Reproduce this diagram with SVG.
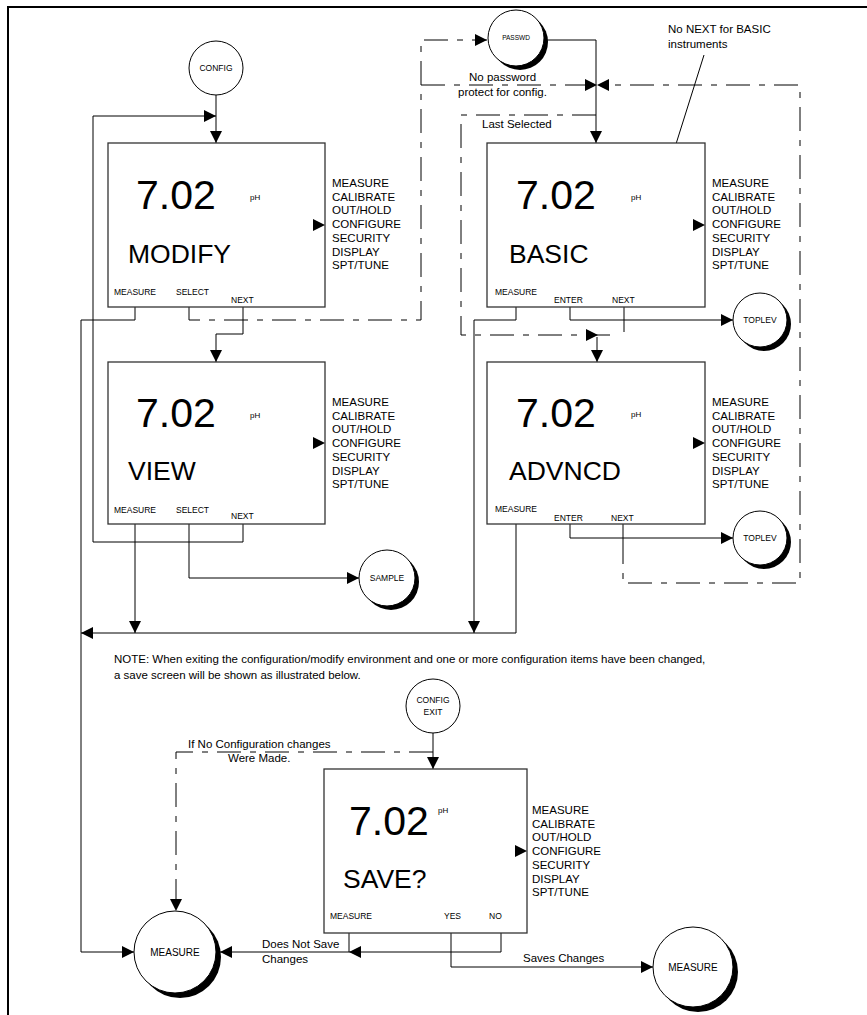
<svg xmlns="http://www.w3.org/2000/svg" width="867" height="1015" viewBox="0 0 867 1015">
<style>
text{font-family:"Liberation Sans",Arial,sans-serif;fill:#000}
.box{fill:#fff;stroke:#333;stroke-width:1.3}
.big{font-size:41px}
.ttl{font-size:26.5px}
.ph{font-size:8px}
.menu{font-size:11.5px}
.key{font-size:8.5px}
.ann{font-size:11.5px}
.cl{font-size:8.5px;text-anchor:middle}
.ln{fill:none;stroke:#000;stroke-width:1}
.dd{fill:none;stroke:#000;stroke-width:1;stroke-dasharray:24 9 6 9}
.ci{fill:#fff;stroke:#000;stroke-width:1}
.sh{fill:#000}
</style>
<defs>
<marker id="ah" viewBox="0 0 12 12" refX="12" refY="6" markerWidth="12" markerHeight="12" markerUnits="userSpaceOnUse" orient="auto"><path d="M0,0L12,6L0,12z"/></marker>
<g id="menu"><text class="menu"><tspan x="0" y="0">MEASURE</tspan><tspan x="0" dy="13.7">CALIBRATE</tspan><tspan x="0" dy="13.7">OUT/HOLD</tspan><tspan x="0" dy="13.7">CONFIGURE</tspan><tspan x="0" dy="13.7">SECURITY</tspan><tspan x="0" dy="13.7">DISPLAY</tspan><tspan x="0" dy="13.7">SPT/TUNE</tspan></text></g>
</defs>

<path d="M8,1015V7H867" fill="none" stroke="#000" stroke-width="2"/>

<g id="connectors">
<path class="ln" d="M216,95V143" marker-end="url(#ah)"/>
<path class="ln" d="M243,524V542H93V116H216" marker-end="url(#ah)"/>
<path class="ln" d="M135,307V320H81V952H134" marker-end="url(#ah)"/>
<path class="dd" d="M189,307V320H421V40H487" marker-end="url(#ah)"/>
<path class="dd" d="M421,85H585"/>
<polygon points="585,79 597,85 585,91"/>
<polygon points="609,79 597,85 609,91"/>
<path class="ln" d="M544,40H596V143" marker-end="url(#ah)"/>
<path class="dd" d="M596,115H461V335H613"/>
<polygon points="586,329 598,335 586,341"/>
<path class="ln" d="M597,337V362" marker-end="url(#ah)"/>
<path class="ln" d="M624,307V332"/>
<path class="ln" d="M516,307V320H474V633" marker-end="url(#ah)"/>
<path class="ln" d="M570,307V320H733" marker-end="url(#ah)"/>
<path class="ln" d="M704,55L631,287"/>
<path class="ln" d="M243,307V334H216V362" marker-end="url(#ah)"/>
<path class="ln" d="M135,524V633" marker-end="url(#ah)"/>
<path class="ln" d="M189,524V578H359" marker-end="url(#ah)"/>
<path class="ln" d="M516,524V633H81" marker-end="url(#ah)"/>
<path class="ln" d="M570,524V538H733" marker-end="url(#ah)"/>
<path class="ln" d="M623,524V540"/>
<path class="dd" d="M623,540V583H800V85H609"/>
<path class="ln" d="M433,733V769" marker-end="url(#ah)"/>
<path class="dd" d="M433,752H176V911" marker-end="url(#ah)"/>
<path class="ln" d="M349,933V952"/>
<path class="ln" d="M501,933V952H220" marker-end="url(#ah)"/>
<polygon points="361,946 349,952 361,958"/>
<path class="ln" d="M451,933V967H653" marker-end="url(#ah)"/>
</g>

<g id="labels">
<text class="ann" x="469" y="81">No password</text>
<text class="ann" x="458" y="96">protect for config.</text>
<text class="ann" x="668" y="33">No NEXT for BASIC</text>
<text class="ann" x="668" y="48">instruments</text>
<text class="ann" x="482" y="128">Last Selected</text>
<text class="ann" x="114" y="663">NOTE: When exiting the configuration/modify environment and one or more configuration items have been changed,</text>
<text class="ann" x="114" y="679">a save screen will be shown as illustrated below.</text>
<text class="ann" x="188" y="748">If No Configuration changes</text>
<text class="ann" x="228" y="762">Were Made.</text>
<text class="ann" x="262" y="948">Does Not Save</text>
<text class="ann" x="262" y="963">Changes</text>
<text class="ann" x="523" y="962">Saves Changes</text>
</g>

<g id="config">
<circle class="ci" cx="216" cy="68" r="27"/>
<text class="cl" x="216" y="71">CONFIG</text>
</g>
<g id="passwd">
<circle class="sh" cx="520" cy="42" r="28"/>
<circle class="ci" cx="516" cy="38" r="28"/>
<text class="cl" x="516" y="40" style="font-size:6.5px">PASSWD</text>
</g>
<g id="toplev1">
<circle class="sh" cx="764" cy="324" r="27"/>
<circle class="ci" cx="760" cy="320" r="27"/>
<text class="cl" x="760" y="323">TOPLEV</text>
</g>
<g id="toplev2">
<circle class="sh" cx="764" cy="542" r="27"/>
<circle class="ci" cx="760" cy="538" r="27"/>
<text class="cl" x="760" y="541">TOPLEV</text>
</g>
<g id="sample">
<circle class="sh" cx="391" cy="582" r="28"/>
<circle class="ci" cx="387" cy="578" r="28"/>
<text class="cl" x="387" y="581">SAMPLE</text>
</g>
<g id="configexit">
<circle class="ci" cx="433" cy="706" r="27"/>
<text class="cl" x="433" y="703">CONFIG</text>
<text class="cl" x="433" y="715">EXIT</text>
</g>
<g id="measure1">
<circle class="sh" cx="180" cy="957" r="41"/>
<circle class="ci" cx="175" cy="952" r="41"/>
<text class="cl" x="175" y="956" style="font-size:10px">MEASURE</text>
</g>
<g id="measure2">
<circle class="sh" cx="698" cy="972" r="40"/>
<circle class="ci" cx="693" cy="967" r="40"/>
<text class="cl" x="693" y="971" style="font-size:10px">MEASURE</text>
</g>

<g id="modify" transform="translate(108,143)">
<rect class="box" x="0" y="0" width="217" height="164"/>
<text class="big" x="28" y="66">7.02</text>
<text class="ph" x="142" y="57">pH</text>
<text class="ttl" x="20" y="120">MODIFY</text>
<polygon points="205,76 217,82 205,88"/>
<use href="#menu" x="224" y="44"/>
<text class="key" x="6" y="152">MEASURE</text>
<text class="key" x="68" y="152">SELECT</text>
<text class="key" x="123" y="160">NEXT</text>
</g>

<g id="view" transform="translate(108,362)">
<rect class="box" x="0" y="0" width="217" height="162"/>
<text class="big" x="28" y="65">7.02</text>
<text class="ph" x="142" y="56">pH</text>
<text class="ttl" x="20" y="118">VIEW</text>
<polygon points="205,75 217,81 205,87"/>
<use href="#menu" x="224" y="44"/>
<text class="key" x="6" y="151">MEASURE</text>
<text class="key" x="68" y="151">SELECT</text>
<text class="key" x="123" y="157">NEXT</text>
</g>

<g id="basic" transform="translate(487,143)">
<rect class="box" x="0" y="0" width="218" height="164"/>
<text class="big" x="29" y="66">7.02</text>
<text class="ph" x="144" y="57">pH</text>
<text class="ttl" x="22" y="120">BASIC</text>
<polygon points="206,76 218,82 206,88"/>
<use href="#menu" x="225" y="44"/>
<text class="key" x="8" y="152">MEASURE</text>
<text class="key" x="67" y="160">ENTER</text>
<text class="key" x="125" y="160">NEXT</text>
</g>

<g id="advncd" transform="translate(487,362)">
<rect class="box" x="0" y="0" width="218" height="162"/>
<text class="big" x="29" y="65">7.02</text>
<text class="ph" x="144" y="55">pH</text>
<text class="ttl" x="22" y="118">ADVNCD</text>
<polygon points="206,75 218,81 206,87"/>
<use href="#menu" x="225" y="44"/>
<text class="key" x="8" y="150">MEASURE</text>
<text class="key" x="67" y="159">ENTER</text>
<text class="key" x="124" y="159">NEXT</text>
</g>

<g id="save" transform="translate(324,769)">
<rect class="box" x="0" y="0" width="203" height="164"/>
<text class="big" x="25" y="66">7.02</text>
<text class="ph" x="114" y="44">pH</text>
<text class="ttl" x="19" y="119">SAVE?</text>
<polygon points="191,76 203,82 191,88"/>
<use href="#menu" x="208" y="45"/>
<text class="key" x="6" y="150">MEASURE</text>
<text class="key" x="120" y="150">YES</text>
<text class="key" x="165" y="150">NO</text>
</g>
</svg>
